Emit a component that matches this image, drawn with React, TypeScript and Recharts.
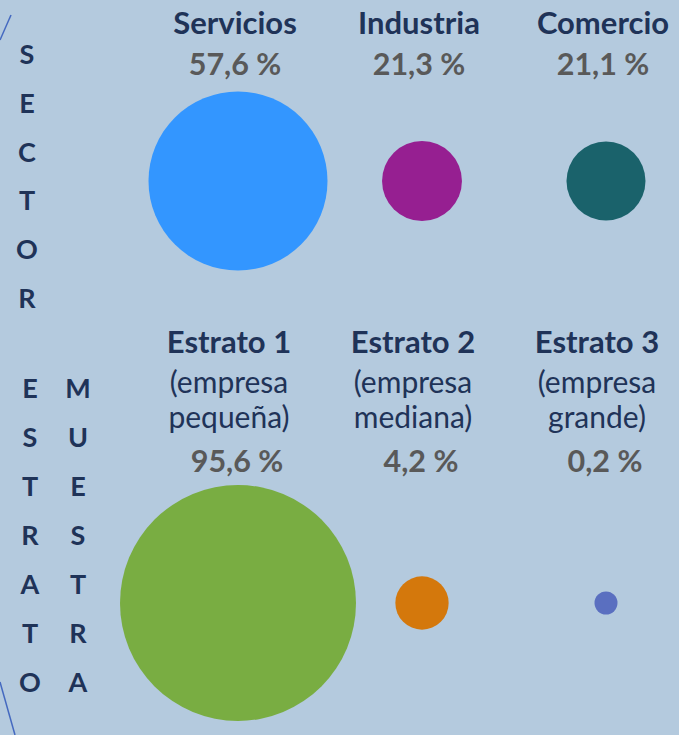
import { ScatterChart, Scatter, XAxis, YAxis, ZAxis, LabelList, Cell } from "recharts";

const SECTOR_NAMES = ["Servicios", "Industria", "Comercio"];
const SECTOR_SHARE = [57.6, 21.3, 21.1];
const SECTOR_COLORS = ["#3396ff", "#961f91", "#1a626b"];

const ESTRATO_NAMES = ["Estrato 1", "Estrato 2", "Estrato 3"];
const ESTRATO_NOTES = [
  ["(empresa", "pequeña)"],
  ["(empresa", "mediana)"],
  ["(empresa", "grande)"],
];
const ESTRATO_SHARE = [95.6, 4.2, 0.2];
const ESTRATO_COLORS = ["#79ad42", "#d4780c", "#5a6fc0"];

const SIDE_SECTOR = "SECTOR";
const SIDE_ESTRATO = "ESTRATO";
const SIDE_MUESTRA = "MUESTRA";

const FONT = "Lato, 'Open Sans', sans-serif";
const NAVY = "#1f3358";
const GREY = "#595959";

const sectorData = SECTOR_NAMES.map((name, i) => ({ name, group: "Sector", share: SECTOR_SHARE[i] }));
const estratoData = ESTRATO_NAMES.map((name, i) => ({ name, group: "Estrato", share: ESTRATO_SHARE[i] }));

const pct = (v: number) => `${v.toFixed(1).replace(".", ",")} %`;

function center(props: any) {
  const vb = props.viewBox ?? props;
  return { cx: vb.x + vb.width / 2, cy: vb.y + vb.height / 2 };
}

function SectorLabel(props: any) {
  const { cx, cy } = center(props);
  const i = SECTOR_NAMES.indexOf(props.value);
  return (
    <g fontFamily={FONT} textAnchor="middle" fontWeight={700}>
      <text x={cx - 3} y={cy - 147} fontSize={31} fill={NAVY}>
        {props.value}
      </text>
      <text x={cx - 3} y={cy - 106} fontSize={30.5} fill={GREY}>
        {pct(SECTOR_SHARE[i])}
      </text>
    </g>
  );
}

function EstratoLabel(props: any) {
  const { cx, cy } = center(props);
  const i = ESTRATO_NAMES.indexOf(props.value);
  return (
    <g fontFamily={FONT} textAnchor="middle">
      <text x={cx - 9} y={cy - 250} fontSize={31} fontWeight={700} fill={NAVY}>
        {props.value}
      </text>
      <text x={cx - 9} y={cy - 210} fontSize={30} fill={NAVY}>
        {ESTRATO_NOTES[i][0]}
      </text>
      <text x={cx - 9} y={cy - 175} fontSize={30} fill={NAVY}>
        {ESTRATO_NOTES[i][1]}
      </text>
      <text x={cx - 1} y={cy - 131} fontSize={30.5} fontWeight={700} fill={GREY}>
        {pct(ESTRATO_SHARE[i])}
      </text>
    </g>
  );
}

function SideText() {
  return (
    <svg width={679} height={735} style={{ position: "absolute", left: 0, top: 0 }}>
      <line x1={0} y1={40} x2={11} y2={15} stroke="#4469c0" strokeWidth={1.5} />
      <line x1={0} y1={682} x2={15} y2={735} stroke="#4469c0" strokeWidth={1.5} />
      <g fontFamily={FONT} fontWeight={700} fontSize={27} fill={NAVY} textAnchor="middle">
        {SIDE_SECTOR.split("").map((ch, i) => (
          <text key={"s" + i} x={27} y={64 + i * 48.8}>
            {ch}
          </text>
        ))}
        {SIDE_ESTRATO.split("").map((ch, i) => (
          <text key={"e" + i} x={30} y={398 + i * 49}>
            {ch}
          </text>
        ))}
        {SIDE_MUESTRA.split("").map((ch, i) => (
          <text key={"m" + i} x={78} y={398 + i * 49}>
            {ch}
          </text>
        ))}
      </g>
    </svg>
  );
}

export default function App() {
  return (
    <div
      style={{
        position: "fixed",
        left: 0,
        top: 0,
        width: 679,
        height: 735,
        overflow: "hidden",
        background: "#b4cade",
      }}
    >
      <ScatterChart width={698} height={735} margin={{ top: -30, right: 0, bottom: -79, left: 146 }}>
        <XAxis xAxisId="sector" type="category" dataKey="name" allowDuplicatedCategory={false} hide />
        <XAxis xAxisId="estrato" type="category" dataKey="name" allowDuplicatedCategory={false} hide />
        <YAxis type="category" dataKey="group" reversed allowDuplicatedCategory={false} hide />
        <ZAxis zAxisId="sector" type="number" dataKey="share" domain={[21.1, 57.6]} range={[4902, 25165]} />
        <ZAxis zAxisId="estrato" type="number" dataKey="share" domain={[0.2, 95.6]} range={[415, 43744]} />
        <Scatter data={sectorData} xAxisId="sector" zAxisId="sector" isAnimationActive={false}>
          {sectorData.map((d, i) => (
            <Cell key={d.name} fill={SECTOR_COLORS[i]} />
          ))}
          <LabelList dataKey="name" content={SectorLabel} />
        </Scatter>
        <Scatter data={estratoData} xAxisId="estrato" zAxisId="estrato" isAnimationActive={false}>
          {estratoData.map((d, i) => (
            <Cell key={d.name} fill={ESTRATO_COLORS[i]} />
          ))}
          <LabelList dataKey="name" content={EstratoLabel} />
        </Scatter>
      </ScatterChart>
      <SideText />
    </div>
  );
}
